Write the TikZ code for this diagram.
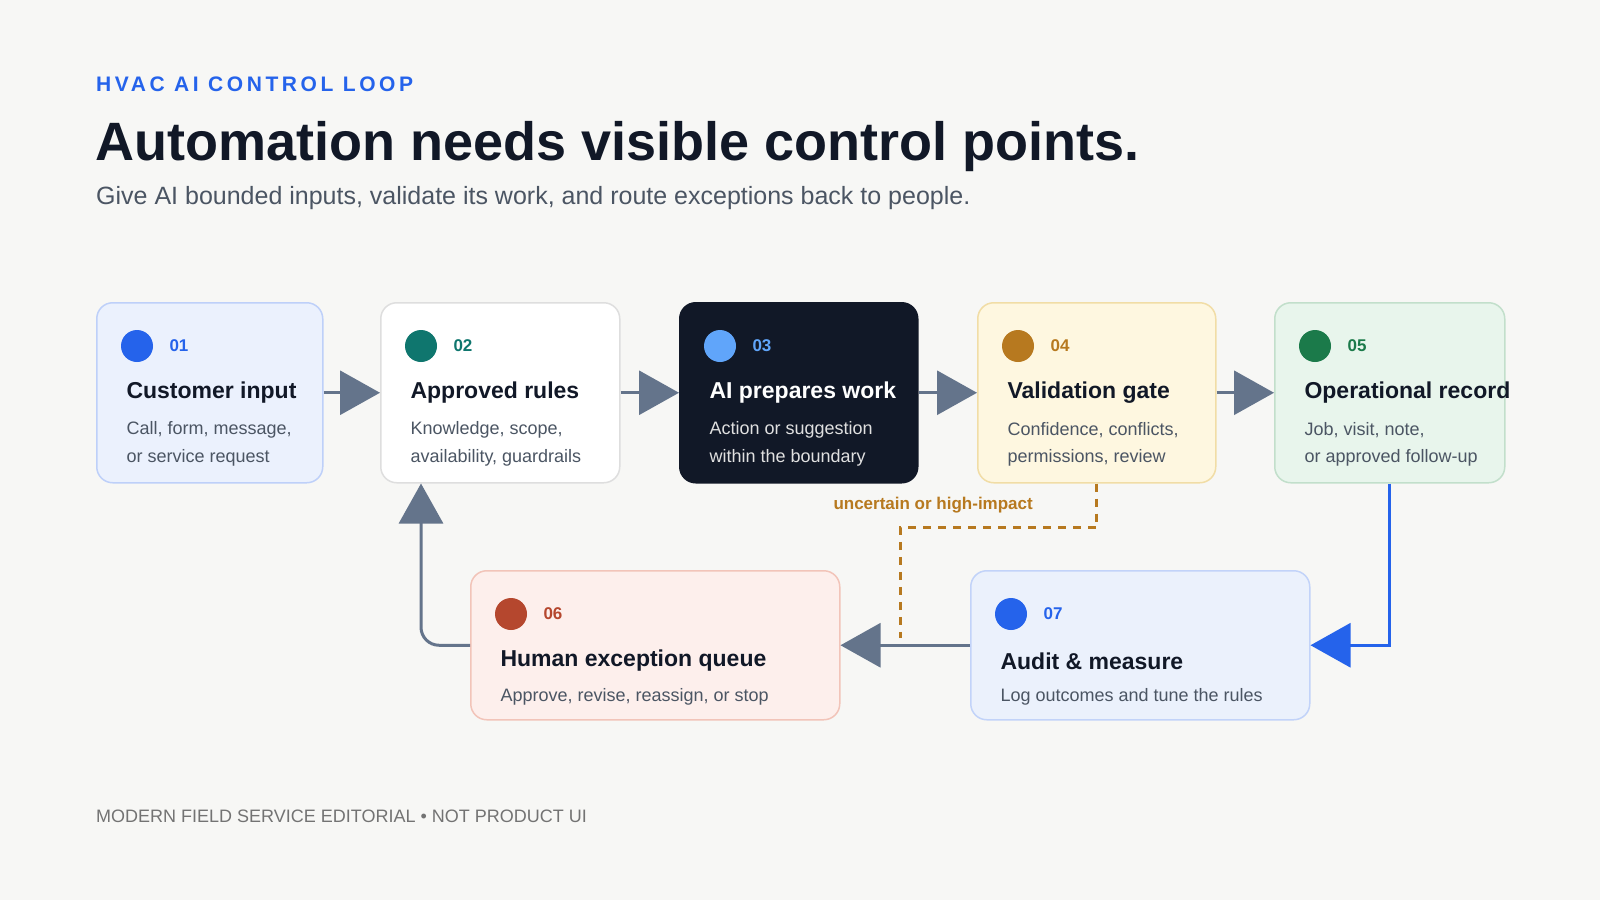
\documentclass[tikz,border=0pt]{standalone}
\usepackage{fontspec}
\setmainfont{Liberation Sans}
\usetikzlibrary{arrows.meta}
\definecolor{bgc}{HTML}{F7F7F5}
\definecolor{ink}{HTML}{111827}
\definecolor{muted}{HTML}{4B5563}
\definecolor{arrowc}{HTML}{64748B}
\definecolor{blue}{HTML}{2563EB}
\definecolor{gold}{HTML}{B7791F}
\definecolor{teal}{HTML}{0F766E}
\definecolor{sky}{HTML}{60A5FA}
\definecolor{goldfill}{HTML}{FEF7E0}
\definecolor{goldline}{HTML}{F1DDA6}
\definecolor{green}{HTML}{1B7A4A}
\definecolor{greenfill}{HTML}{E8F5EC}
\definecolor{greenline}{HTML}{C2DFCB}
\definecolor{rust}{HTML}{B5472E}
\definecolor{rustfill}{HTML}{FDEFEC}
\definecolor{rustline}{HTML}{F2C4B9}
\definecolor{bluefill}{HTML}{EBF1FC}
\tikzset{
  card/.style={rectangle, draw, rounded corners=16pt, line width=1.5pt, anchor=north west, inner sep=0pt},
  dot/.style={circle, inner sep=0pt, minimum size=32pt},
  num/.style={anchor=west, font=\fontsize{17}{20}\selectfont\bfseries},
  ttl/.style={anchor=west, font=\fontsize{23}{27}\selectfont\bfseries},
  desc/.style={anchor=west, font=\fontsize{18}{22}\selectfont, text=muted},
  flow/.style={line width=3pt, draw=arrowc, -{Triangle[length=40pt,width=44pt]}}
}
% #1 name, #2 x, #3 y, #4 width, #5 height, #6 fill, #7 border, #8 dot colour, #9 number
\newcommand{\stepbox}[9]{%
  \node[card, fill=#6, draw=#7, minimum width=#4pt, minimum height=#5pt] (#1) at (#2,#3) {};
  \node[dot, fill=#8] (#1dot) at ([xshift=41pt,yshift=-44pt]#1.north west) {};
  \node[num, text=#8] (#1num) at ([xshift=70pt,yshift=-44pt]#1.north west) {#9};
}
\begin{document}
\begin{tikzpicture}[x=1pt, y=-1pt]
\useasboundingbox[fill=bgc] (0,0) rectangle (1600,900);

% header
\node[anchor=base west, inner sep=0pt, text=blue, font=\fontsize{21}{24}\selectfont\bfseries\addfontfeature{LetterSpace=17}] (eyebrow) at (96,91) {HVAC AI CONTROL LOOP};
\node[anchor=base west, inner sep=0pt, text=ink, font=\fontsize{54}{60}\selectfont\bfseries] (title) at (95,160) {Automation needs visible control points.};
\node[anchor=base west, inner sep=0pt, text=muted, font=\fontsize{25}{29}\selectfont] (subtitle) at (96,204) {Give AI bounded inputs, validate its work, and route exceptions back to people.};

% steps
\stepbox{inp}{96}{302}{226}{180}{blue!9}{blue!30}{blue}{01}
\node[ttl, text=ink] at ([xshift=27pt,yshift=-91pt]inp.north west) {Customer input};
\node[desc] at ([xshift=27pt,yshift=-128pt]inp.north west) {Call, form, message,};
\node[desc] at ([xshift=27pt,yshift=-156pt]inp.north west) {or service request};

\stepbox{rules}{380}{302}{239}{180}{white}{black!13}{teal}{02}
\node[ttl, text=ink] at ([xshift=27pt,yshift=-91pt]rules.north west) {Approved rules};
\node[desc] at ([xshift=27pt,yshift=-128pt]rules.north west) {Knowledge, scope,};
\node[desc] at ([xshift=27pt,yshift=-156pt]rules.north west) {availability, guardrails};

\stepbox{ai}{679}{302}{238}{180}{ink}{ink}{sky}{03}
\node[ttl, text=white] at ([xshift=27pt,yshift=-91pt]ai.north west) {AI prepares work};
\node[desc, text=black!12] at ([xshift=27pt,yshift=-128pt]ai.north west) {Action or suggestion};
\node[desc, text=black!12] at ([xshift=27pt,yshift=-156pt]ai.north west) {within the boundary};

\stepbox{gate}{977}{302}{238}{180}{goldfill}{goldline}{gold}{04}
\node[ttl, text=ink] at ([xshift=27pt,yshift=-91pt]gate.north west) {Validation gate};
\node[desc] at ([xshift=27pt,yshift=-128pt]gate.north west) {Confidence, conflicts,};
\node[desc] at ([xshift=27pt,yshift=-156pt]gate.north west) {permissions, review};

\stepbox{rec}{1274}{302}{230}{180}{greenfill}{greenline}{green}{05}
\node[ttl, text=ink] at ([xshift=27pt,yshift=-91pt]rec.north west) {Operational record};
\node[desc] at ([xshift=27pt,yshift=-128pt]rec.north west) {Job, visit, note,};
\node[desc] at ([xshift=27pt,yshift=-156pt]rec.north west) {or approved follow-up};

\stepbox{queue}{470}{570}{369}{149}{rustfill}{rustline}{rust}{06}
\node[ttl, text=ink] at ([xshift=27pt,yshift=-91pt]queue.north west) {Human exception queue};
\node[desc] at ([xshift=27pt,yshift=-127pt]queue.north west) {Approve, revise, reassign, or stop};

\stepbox{audit}{970}{570}{339}{149}{bluefill}{blue!28}{blue}{07}
\node[ttl, text=ink] at ([xshift=27pt,yshift=-91pt]audit.north west) {Audit \& measure};
\node[desc] at ([xshift=27pt,yshift=-127pt]audit.north west) {Log outcomes and tune the rules};

% connectors
\draw[flow] (inp) -- (rules);
\draw[flow] (rules) -- (ai);
\draw[flow] (ai) -- (gate);
\draw[flow] (gate) -- (rec);
\draw[flow] (audit) -- (queue);
\draw[flow, rounded corners=18pt] (queue.west) -| ([xshift=41pt]rules.south west);
\draw[flow, draw=blue] (rec.south) |- (audit.east);
\coordinate (dashend) at (900,638);
\draw[line width=3pt, draw=gold, dash pattern=on 8pt off 7pt] (gate.south) -- ++(0,44) -| (dashend);
\node[anchor=base east, inner sep=0pt, text=gold, font=\fontsize{17}{20}\selectfont\bfseries] (esc) at (1033,509) {uncertain or high-impact};

% footer
\node[anchor=base west, inner sep=0pt, text=black!55, font=\fontsize{18}{21}\selectfont] (footer) at (96,822) {MODERN FIELD SERVICE EDITORIAL • NOT PRODUCT UI};
\end{tikzpicture}
\end{document}
